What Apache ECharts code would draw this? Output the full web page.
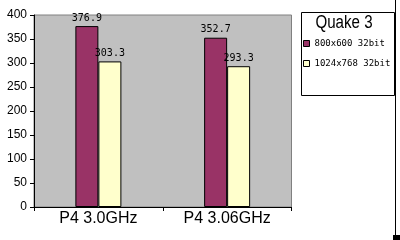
<!DOCTYPE html>
<html><head><meta charset="utf-8">
<script src="https://cdn.jsdelivr.net/npm/echarts@6/dist/echarts.min.js"></script>
<style>html,body{margin:0;padding:0;background:#fff}#c{width:400px;height:240px}</style>
</head><body><div id="c"></div>
<script>
const categories = ['P4 3.0GHz', 'P4 3.06GHz'];
const seriesNames = ['800x600 32bit', '1024x768 32bit'];
const values800 = [376.9, 352.7];
const values1024 = [303.3, 293.3];
const legendTitle = 'Quake 3';
const yTicks = {min: 0, max: 400, interval: 50};

const chart = echarts.init(document.getElementById('c'), null, {renderer: 'canvas'});
const labelStyle = {show: true, position: 'top', distance: 3, color: '#000', fontFamily: 'DejaVu Sans Mono', fontSize: 10};
chart.setOption({
  animation: false,
  backgroundColor: '#fff',
  grid: {left: 34, right: 108.5, top: 15, bottom: 33, show: true, backgroundColor: '#C0C0C0', borderColor: '#808080', borderWidth: 1},
  xAxis: {
    type: 'category', data: categories,
    axisLine: {lineStyle: {color: '#000', width: 1}},
    axisTick: {show: true, length: 4, lineStyle: {color: '#000'}},
    axisLabel: {color: '#000', fontSize: 16, fontFamily: '"Liberation Sans", Arial, sans-serif', margin: 4}
  },
  yAxis: {
    type: 'value', min: yTicks.min, max: yTicks.max, interval: yTicks.interval,
    splitLine: {show: false},
    axisLine: {show: true, lineStyle: {color: '#000', width: 1}},
    axisTick: {show: true, length: 4, lineStyle: {color: '#000'}},
    axisLabel: {color: '#000', fontSize: 12, fontFamily: '"Liberation Sans", Arial, sans-serif', margin: 7}
  },
  legend: {
    orient: 'vertical', left: 303, top: 38, padding: 0, itemWidth: 6, itemHeight: 6, itemGap: 9, icon: 'rect',
    textStyle: {color: '#000', fontFamily: 'DejaVu Sans Mono', fontSize: 9, lineHeight: 11},
    data: seriesNames.map(n => ({name: n, itemStyle: {borderColor: '#000', borderWidth: 1}}))
  },
  graphic: [
    {type: 'rect', z: -1, shape: {x: 301.5, y: 12.5, width: 93, height: 83}, style: {fill: '#fff', stroke: '#000', lineWidth: 1}},
    {type: 'text', z: 10, x: 344, y: 23, scaleX: 0.84, style: {text: legendTitle, x: 0, y: 0, align: 'center', verticalAlign: 'middle', fill: '#000', font: '18px "Liberation Sans", Arial, sans-serif'}},
    {type: 'line', shape: {x1: 395.5, y1: 0, x2: 395.5, y2: 240}, style: {stroke: '#000', lineWidth: 1}},
    {type: 'rect', shape: {x: 393, y: 235, width: 7, height: 5}, style: {fill: '#000'}}
  ],
  series: [
    {name: seriesNames[0], type: 'bar', data: values800, barWidth: 23, barGap: '0%',
     itemStyle: {color: '#993366', borderColor: '#000', borderWidth: 1}, label: labelStyle},
    {name: seriesNames[1], type: 'bar', data: values1024, barWidth: 23, barGap: '0%',
     itemStyle: {color: '#FFFFCC', borderColor: '#000', borderWidth: 1}, label: labelStyle}
  ]
});
</script></body></html>
